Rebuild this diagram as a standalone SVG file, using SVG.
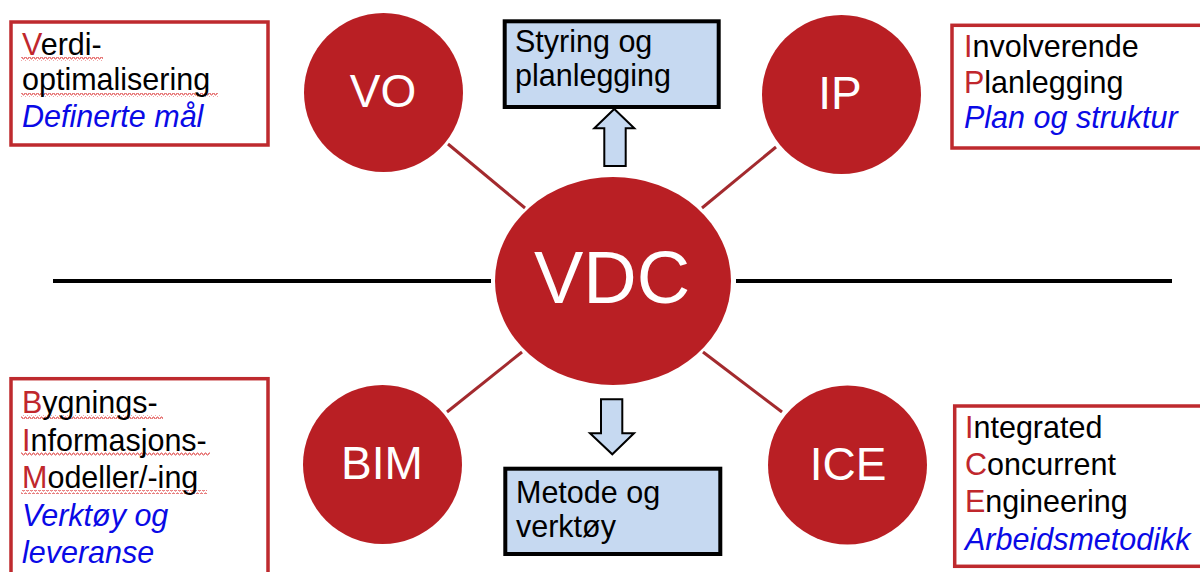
<svg xmlns="http://www.w3.org/2000/svg" width="1200" height="572" viewBox="0 0 1200 572">
  <defs>
    <style>
      text { font-family: "Liberation Sans", Arial, sans-serif; }
      .lbl { font-size: 30.5px; fill: #000; }
      .ini { fill: #C0272D; }
      .sub { fill: #0A0AE6; font-style: italic; }
      .circ { fill: #B91F24; }
      .ctext { fill: #fff; font-size: 46px; text-anchor: middle; }
      .redbox { fill: #fff; stroke: #BE2A2E; stroke-width: 3.5; }
      .bluebox { fill: #C6D9F1; stroke: #000; stroke-width: 4; }
      .arrow { fill: #C6D9F1; stroke: #000; stroke-width: 2; stroke-linejoin: miter; }
      .spoke { stroke: #A32A2E; stroke-width: 3; }
      .axis { stroke: #000; stroke-width: 4; }
    </style>
    <!-- spell-check style squiggle -->
    <pattern id="squiggle" width="4" height="4" patternUnits="userSpaceOnUse">
      <path d="M0 3 L1 1 L2 1 L3 3 L4 3" fill="none" stroke="#E05050" stroke-width="1"/>
    </pattern>
  </defs>

  <rect width="1200" height="572" fill="#fff"/>

  <!-- connectors -->
  <g id="connectors">
    <line class="axis" x1="53" y1="281" x2="491" y2="281"/>
    <line class="axis" x1="736" y1="281" x2="1172" y2="281"/>
    <line class="spoke" x1="448" y1="144" x2="525" y2="208"/>
    <line class="spoke" x1="776" y1="147" x2="702" y2="208"/>
    <line class="spoke" x1="522" y1="352" x2="447" y2="412"/>
    <line class="spoke" x1="703" y1="352" x2="782" y2="412"/>
    <path class="arrow" d="M614.3 109 L634.3 128.3 L625.7 128.3 L625.7 166 L604.3 166 L604.3 128.3 L594.3 128.3 Z"/>
    <path class="arrow" d="M601 399.3 L622.3 399.3 L622.3 433.3 L634 433.3 L612.3 454.3 L590 433.3 L601 433.3 Z"/>
  </g>

  <!-- centre node -->
  <g id="vdc">
    <ellipse class="circ" cx="613" cy="281" rx="118" ry="104"/>
    <text class="ctext" x="612" y="303" style="font-size:74px">VDC</text>
  </g>

  <!-- satellite nodes -->
  <g id="vo">
    <circle class="circ" cx="383.5" cy="92.5" r="79.5"/>
    <text class="ctext" x="383" y="107">VO</text>
  </g>
  <g id="ip">
    <circle class="circ" cx="841.5" cy="94.5" r="79.5"/>
    <text class="ctext" x="840" y="109">IP</text>
  </g>
  <g id="bim">
    <circle class="circ" cx="382.5" cy="464.5" r="79.5"/>
    <text class="ctext" x="382" y="479">BIM</text>
  </g>
  <g id="ice">
    <circle class="circ" cx="847.5" cy="465" r="79.5"/>
    <text class="ctext" x="848" y="480">ICE</text>
  </g>

  <!-- outcome boxes -->
  <g id="styring">
    <rect class="bluebox" x="504.7" y="21.3" width="214" height="85.7"/>
    <text class="lbl" x="515" y="52">Styring og</text>
    <text class="lbl" x="515" y="86">planlegging</text>
  </g>
  <g id="metode">
    <rect class="bluebox" x="505.3" y="468.7" width="215" height="85.3"/>
    <text class="lbl" x="516" y="503">Metode og</text>
    <text class="lbl" x="516" y="537">verktøy</text>
  </g>

  <!-- description boxes -->
  <g id="vo-desc">
    <rect class="redbox" x="11" y="22" width="257" height="123"/>
    <rect x="21" y="57" width="82" height="4" fill="url(#squiggle)"/>
    <rect x="21" y="93" width="197" height="4" fill="url(#squiggle)"/>
    <text class="lbl" x="22" y="55"><tspan class="ini">V</tspan>erdi-</text>
    <text class="lbl" x="22" y="90">optimalisering</text>
    <text class="lbl sub" x="22" y="127">Definerte mål</text>
  </g>

  <g id="ip-desc">
    <rect class="redbox" x="952" y="25.3" width="260" height="122.7"/>
    <text class="lbl" x="964" y="57"><tspan class="ini">I</tspan>nvolverende</text>
    <text class="lbl" x="964" y="93"><tspan class="ini">P</tspan>lanlegging</text>
    <text class="lbl sub" x="964" y="128">Plan og struktur</text>
  </g>

  <g id="bim-desc">
    <rect class="redbox" x="11" y="378.7" width="257" height="210"/>
    <rect x="21" y="415" width="142" height="4" fill="url(#squiggle)"/>
    <rect x="21" y="452" width="189" height="4" fill="url(#squiggle)"/>
    <rect x="21" y="490" width="186" height="4" fill="url(#squiggle)"/>
    <text class="lbl" x="22" y="413"><tspan class="ini">B</tspan>ygnings-</text>
    <text class="lbl" x="22" y="451"><tspan class="ini">I</tspan>nformasjons-</text>
    <text class="lbl" x="22" y="488"><tspan class="ini">M</tspan>odeller/-ing</text>
    <text class="lbl sub" x="22" y="526">Verktøy og</text>
    <text class="lbl sub" x="22" y="563">leveranse</text>
  </g>

  <g id="ice-desc">
    <rect class="redbox" x="954.7" y="406" width="260" height="160.3"/>
    <text class="lbl" x="965" y="438"><tspan class="ini">I</tspan>ntegrated</text>
    <text class="lbl" x="965" y="475"><tspan class="ini">C</tspan>oncurrent</text>
    <text class="lbl" x="965" y="512"><tspan class="ini">E</tspan>ngineering</text>
    <text class="lbl sub" x="965" y="550">Arbeidsmetodikk</text>
  </g>
</svg>
